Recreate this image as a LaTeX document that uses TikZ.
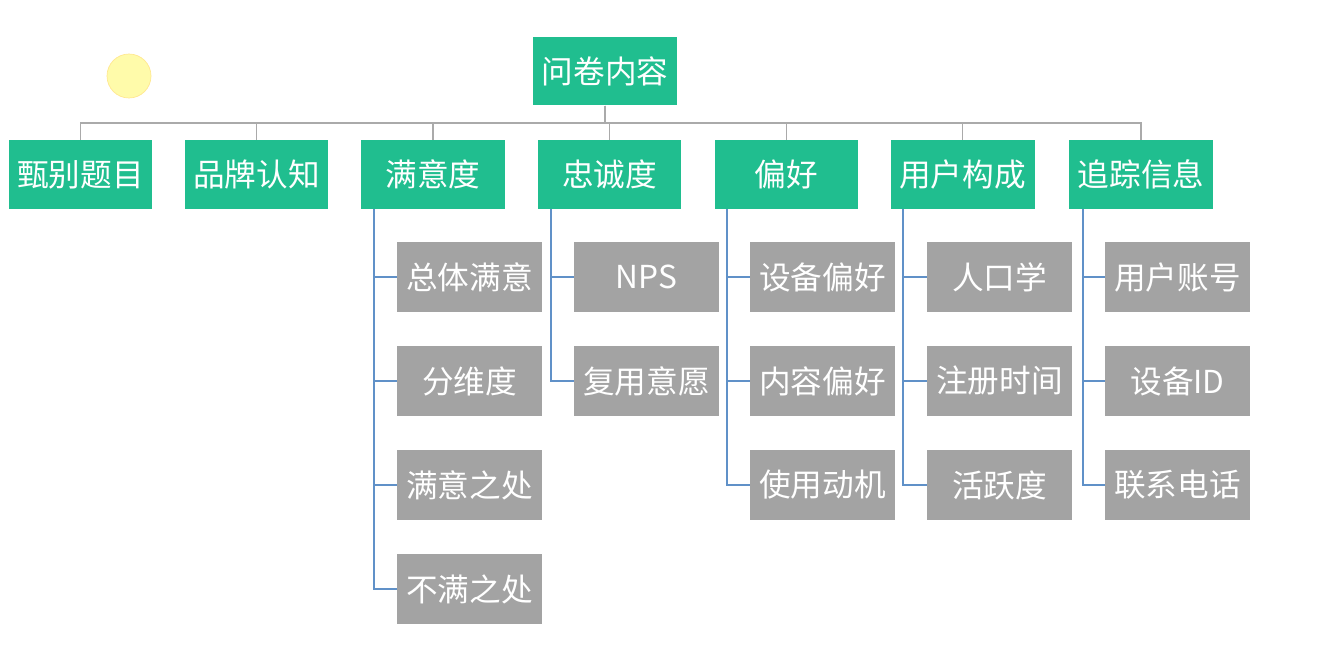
\documentclass[tikz,border=0pt]{standalone}
\usepackage{fontspec}
\setmainfont{Noto Sans CJK SC}
\usepackage{xcolor}
\usepackage{tikz}
\usetikzlibrary{arrows.meta, positioning, calc}
\definecolor{themegreen}{RGB}{32, 190, 143}
\definecolor{themegray}{RGB}{163, 163, 163}
\definecolor{linegray}{RGB}{170, 170, 170}
\definecolor{linkblue}{RGB}{96, 145, 200}
\definecolor{markyellow}{RGB}{255, 251, 170}

\begin{document}
\begin{tikzpicture}[x=0.02cm, y=-0.02cm, >=Stealth,
    topbox/.style={fill=themegreen, text=white, minimum width=2.88cm, minimum height=1.38cm, inner sep=0pt, font=\fontsize{18}{20}\selectfont},
    itembox/.style={fill=themegray, text=white, minimum width=2.9cm, minimum height=1.42cm, inner sep=0pt, font=\fontsize{18}{20}\selectfont},
    barline/.style={draw=linegray, line width=1.1pt},
    branch/.style={draw=linkblue, line width=1.1pt}]
    \useasboundingbox (0,0) rectangle (1318,652);
    \fill[white] (0,0) rectangle (1318,652);
    % highlight mark
    \filldraw[fill=markyellow, draw=markyellow!85!orange, line width=0.4pt] (129,76) circle (0.44cm);
    % root and first level
    \node[topbox] (root) at (605,71) {问卷内容};
    \coordinate (bar) at (605,123);
    \foreach \name/\x/\t in {screen/80.5/甄别题目, brand/256.5/品牌认知, satis/433/满意度,
        loyal/609.5/忠诚度, pref/786.5/偏好, users/962.5/用户构成, track/1141/追踪信息} {
        \node[topbox] (\name) at (\x,174.5) {\t};
        \draw[barline] (root.south) -- (root.south |- bar) -| (\name.north);
    }
    % second level
    \foreach \t [count=\i] in {总体满意, 分维度, 满意之处, 不满之处} {
        \node[itembox] (satis-\i) at (469.5,173+104*\i) {\t};
        \draw[branch] ([xshift=0.26cm]satis.south west) |- (satis-\i.west);
    }
    \foreach \t [count=\i] in {NPS, 复用意愿} {
        \node[itembox] (loyal-\i) at (646.5,173+104*\i) {\t};
        \draw[branch] ([xshift=0.28cm]loyal.south west) |- (loyal-\i.west);
    }
    \foreach \t [count=\i] in {设备偏好, 内容偏好, 使用动机} {
        \node[itembox] (pref-\i) at (822.5,173+104*\i) {\t};
        \draw[branch] ([xshift=0.26cm]pref.south west) |- (pref-\i.west);
    }
    \foreach \t [count=\i] in {人口学, 注册时间, 活跃度} {
        \node[itembox] (users-\i) at (999.5,173+104*\i) {\t};
        \draw[branch] ([xshift=0.26cm]users.south west) |- (users-\i.west);
    }
    \foreach \t [count=\i] in {用户账号, 设备ID, 联系电话} {
        \node[itembox] (track-\i) at (1177.5,173+104*\i) {\t};
        \draw[branch] ([xshift=0.28cm]track.south west) |- (track-\i.west);
    }
\end{tikzpicture}
\end{document}
